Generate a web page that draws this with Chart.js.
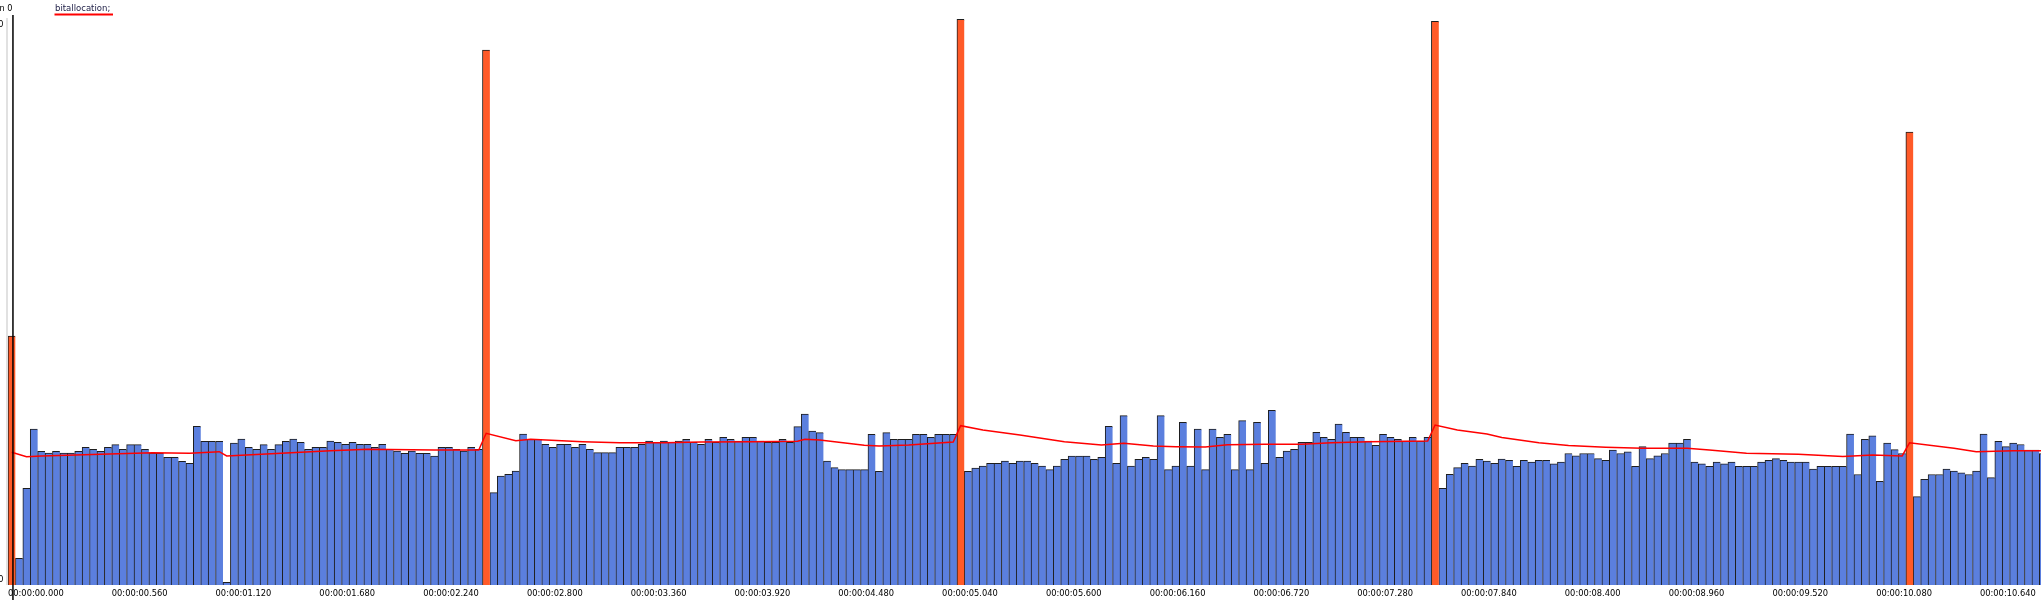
<!DOCTYPE html>
<html>
<head>
<meta charset="utf-8">
<title>bitallocation</title>
<script src="https://cdn.jsdelivr.net/npm/chart.js@4.4.1/dist/chart.umd.min.js"></script>
<style>
  html, body { margin: 0; padding: 0; background: #fff; overflow: hidden; }
  #wrap { width: 2047px; height: 600px; }
</style>
</head>
<body>
<div id="wrap"><canvas id="bits" width="2047" height="600"></canvas></div>
<script>
// size of every frame (one bar per frame, 25 fps)
const frameBits = [
  249, 26.7, 96.7, 156, 133.7, 132, 133.7, 132, 132, 133.7,
  137.7, 135.7, 133.7, 137.7, 140.3, 135.7, 140.3, 140.3, 135.7, 132,
  132, 127.7, 127.7, 123.7, 121.7, 158.7, 143.7, 143.7, 143.7, 2.7,
  142, 146, 137.7, 135.7, 140.3, 135.7, 140.3, 143.7, 146, 142.7,
  135.7, 137.7, 137.7, 144, 142.7, 140.7, 142.7, 140.7, 140.7, 137.7,
  140.7, 135.7, 134, 131.7, 134, 131.7, 131.7, 129, 137.7, 137.7,
  135.7, 134, 137.7, 135.7, 535, 92.3, 109, 110.7, 114, 151,
  145.7, 145.7, 140.7, 137.7, 140.7, 140.7, 137.7, 140.7, 135.7, 132.3,
  132.3, 132.3, 137.7, 137.7, 137.7, 140.7, 144, 142.7, 144, 142.7,
  144, 145.7, 142.7, 140.7, 145.7, 142.7, 147.7, 145.7, 144, 147.7,
  147.7, 144, 142.7, 142.7, 145.7, 142.7, 158.3, 171, 154, 152.3,
  124, 117.3, 115.3, 115.3, 115.3, 115.3, 150.7, 113.7, 152.3, 145.7,
  145.7, 145.7, 150.7, 150.7, 147.7, 150.7, 150.7, 150.7, 565.7, 113.7,
  117, 119, 121.7, 121.7, 124, 121.7, 124, 124, 121.7, 119,
  115.3, 119, 125.7, 129, 129, 129, 125.7, 127.7, 158.7, 121.7,
  169.3, 119, 125.7, 127.7, 125.7, 169.3, 115.3, 119, 162.7, 119,
  156, 115.3, 156, 147.7, 150.7, 115.3, 164.3, 115.3, 162.7, 121.7,
  174.7, 127.7, 134, 135.7, 142.7, 142.7, 152.7, 147.7, 145.7, 161,
  152.7, 147.7, 147.7, 144, 139.7, 150.7, 147.7, 145.7, 144, 147.7,
  144, 147.7, 563.7, 96.7, 110.7, 117.3, 121.7, 119, 125.7, 124,
  121.7, 126, 124.6, 118.7, 124.6, 122.9, 124.6, 124.6, 121.1, 122.9,
  131.5, 129.1, 131.5, 131.5, 126.3, 124.6, 135, 131.5, 133.2, 118.7,
  138.4, 126.3, 129.1, 131.5, 141.9, 141.9, 145.6, 122.9, 121.1, 118.7,
  122.9, 121.1, 122.9, 118.7, 118.7, 118.7, 122.9, 124.6, 126.3, 124.6,
  122.9, 122.9, 122.9, 116, 118.7, 118.7, 118.7, 118.7, 150.8, 110.5,
  145.6, 149.1, 103.6, 141.9, 135.3, 131.5, 453, 88.4, 105.6, 110.5,
  110.5, 116, 113.9, 112.2, 110.5, 113.9, 150.8, 107.3, 143.6, 138.4,
  141.9, 140.5, 135, 135, 131.5
];
const iFrames = [0, 64, 128, 192, 256];

// running bit allocation (red line), read at the frames where it bends
const avgFrames = [0, 2, 4, 12, 19, 24, 28, 29, 39, 43, 48, 57, 63, 64, 68, 70, 77, 82, 88, 93,
  100, 106, 107, 109, 115, 117, 121, 127, 128, 131, 136, 142, 147, 150, 154, 157, 161, 164, 169, 174,
  178, 183, 191, 192, 195, 199, 201, 206, 210, 215, 220, 226, 229, 234, 241, 247, 251, 255, 256, 262,
  265, 270, 274];
const avgBits = [132.7, 128.3, 129, 130.7, 132.3, 131.7, 133.3, 129, 132.7, 134.3, 135.7, 135, 135, 151.7, 144.3, 145.7, 143.3, 142.3, 142.3, 143,
  143.3, 143.7, 145.7, 145, 139.7, 139, 140, 143, 159.3, 155, 150, 143.3, 140, 141.7, 139, 138.3, 138, 140.3, 140.7, 140.7,
  142.3, 143.3, 144, 160, 155, 151, 147.5, 142.2, 139.4, 137.7, 136.7, 136.7, 135, 131.8, 130.8, 128.4, 130.1, 129.1, 142.2, 136.7,
  133.2, 134.3, 134.3];

const tickLabels = ['00:00:00.000', '00:00:00.560', '00:00:01.120', '00:00:01.680', '00:00:02.240',
  '00:00:02.800', '00:00:03.360', '00:00:03.920', '00:00:04.480', '00:00:05.040',
  '00:00:05.600', '00:00:06.160', '00:00:06.720', '00:00:07.280', '00:00:07.840',
  '00:00:08.400', '00:00:08.960', '00:00:09.520', '00:00:10.080', '00:00:10.640'];
const tickStep = 14;
const yMax = 570;

const frames = frameBits.map((_, i) => i);
const pBars = frameBits.map((v, i) => iFrames.includes(i) ? null : v);
const iBars = frameBits.map((v, i) => iFrames.includes(i) ? v : null);
const avgLine = frameBits.map(() => null);
avgFrames.forEach((f, k) => { avgLine[f] = avgBits[k]; });

// axis stubs, cursor and the legend are drawn by hand on top
const overlay = {
  id: 'overlay',
  afterDraw(chart) {
    const ctx = chart.ctx;
    ctx.save();
    ctx.fillStyle = '#c4c4c4';
    ctx.fillRect(6.5, 18, 1, 567);

    ctx.font = '8.2px "DejaVu Sans"';
    ctx.fillStyle = '#000';
    ctx.textAlign = 'right';
    ctx.fillText('n 0', 12.5, 10.5);
    ctx.fillText(String(yMax), 3.5, 26.5);
    ctx.fillText('0', 3.5, 582);

    ctx.fillRect(12.2, 15, 1.5, 585);

    ctx.textAlign = 'left';
    ctx.fillStyle = '#1c1c44';
    ctx.font = '8.5px "DejaVu Sans"';
    ctx.fillText('bitallocation;', 55, 10.5);
    ctx.fillStyle = '#ff0000';
    ctx.fillRect(54.5, 13.5, 58.5, 2);
    ctx.restore();
  }
};

const barBase = {
  type: 'bar',
  grouped: false,
  barPercentage: 1,
  categoryPercentage: 1,
  borderColor: '#1e1e1e',
  borderWidth: { top: 1, left: 1, right: 0, bottom: 0 }
};

new Chart(document.getElementById('bits'), {
  type: 'bar',
  data: {
    labels: frames,
    datasets: [
      { type: 'line', label: 'bitallocation;', data: avgLine, borderColor: '#ff0000', borderWidth: 1.5,
        pointRadius: 0, spanGaps: true, tension: 0, order: 0 },
      { ...barBase, label: 'I', data: iBars, backgroundColor: '#ff5a28', order: 1 },
      { ...barBase, label: 'P', data: pBars, backgroundColor: '#5b7fde', order: 2 }
    ]
  },
  options: {
    responsive: false,
    animation: false,
    layout: { padding: { left: 8, top: 15, right: 0, bottom: 3 } },
    plugins: { legend: { display: false }, tooltip: { enabled: false } },
    scales: {
      x: {
        grid: { display: false, drawTicks: false },
        border: { display: false },
        afterFit: (s) => { s.height = 12; },
        ticks: {
          autoSkip: false, maxRotation: 0, minRotation: 0,
          align: 'start', labelOffset: -3.7, padding: 4,
          color: '#000', font: { family: 'DejaVu Sans', size: 8.3 },
          callback: (v, i) => i % tickStep === 0 ? tickLabels[i / tickStep] : ''
        }
      },
      y: { display: false, min: 0, max: yMax }
    }
  },
  plugins: [overlay]
});
</script>
</body>
</html>
